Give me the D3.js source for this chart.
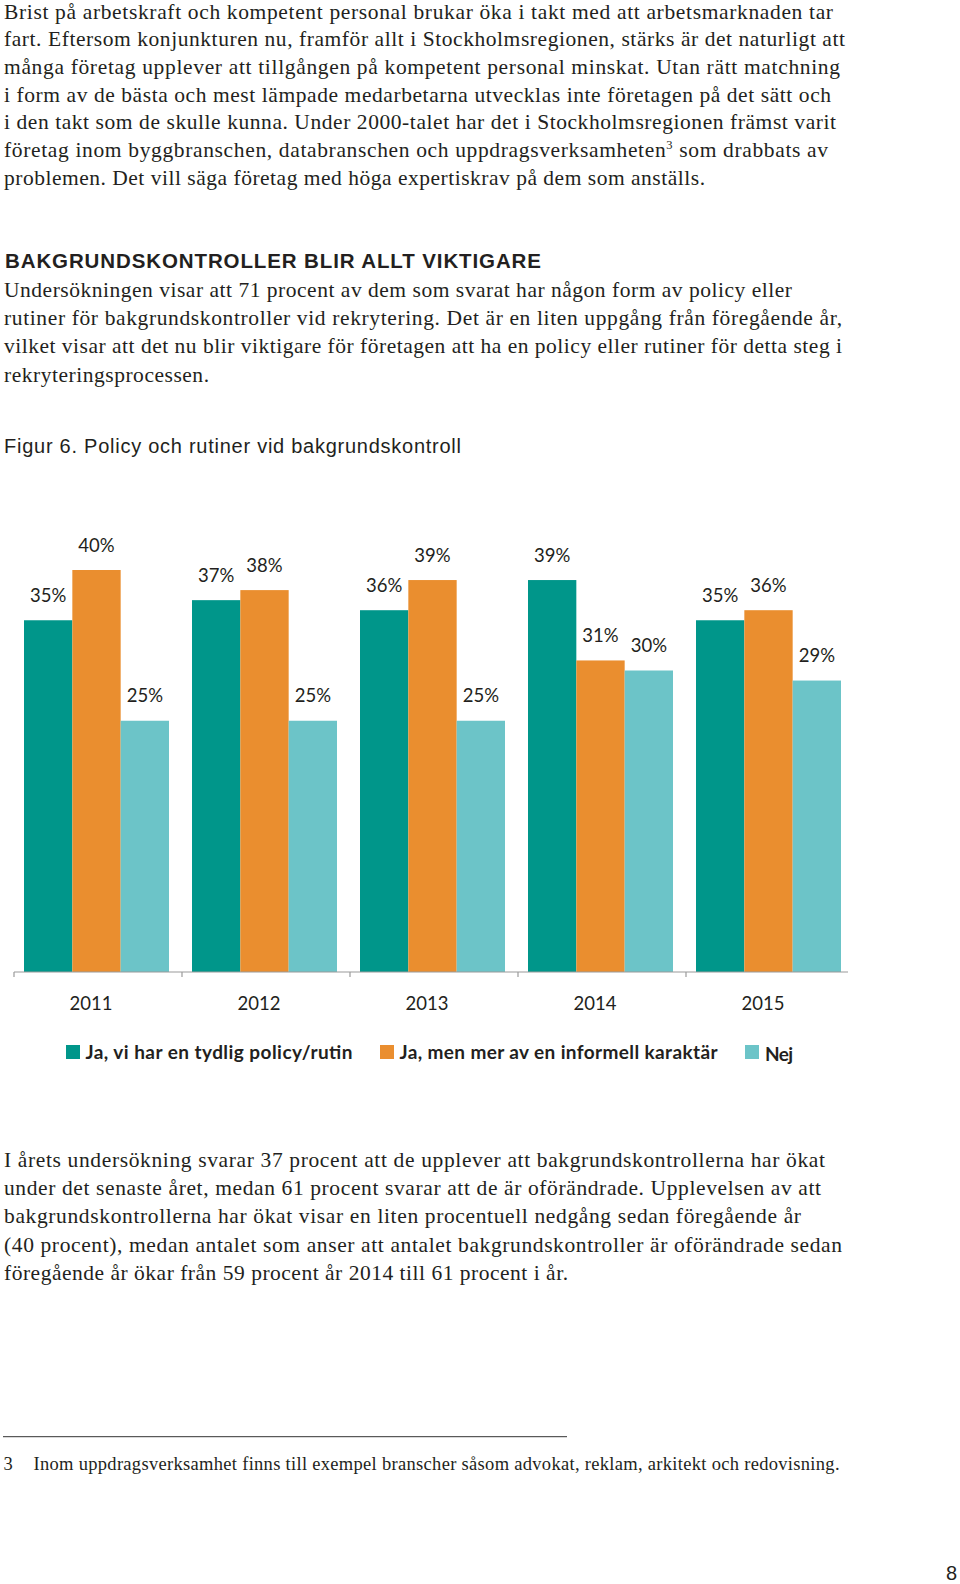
<!DOCTYPE html>
<html>
<head>
<meta charset="utf-8">
<script src="https://cdn.jsdelivr.net/npm/d3@7"></script>
<style>
  html, body { margin: 0; padding: 0; background: #fff; }
  svg { display: block; }
</style>
</head>
<body>
<div id="chart"></div>
<script>
// ---------- DATA ----------
const years = ["2011", "2012", "2013", "2014", "2015"];
const seriesNames = ["Ja, vi har en tydlig policy/rutin", "Ja, men mer av en informell karaktär", "Nej"];
const policyValues = [35, 37, 36, 39, 35];
const informalValues = [40, 38, 39, 31, 36];
const nejValues = [25, 25, 25, 30, 29];
const seriesColors = ["#00968a", "#ea8e2f", "#6cc4c8"];

const para1 = [
  ["Brist på arbetskraft och kompetent personal brukar öka i takt med att arbetsmarknaden tar", 833],
  ["fart. Eftersom konjunkturen nu, framför allt i Stockholmsregionen, stärks är det naturligt att", 845],
  ["många företag upplever att tillgången på kompetent personal minskat. Utan rätt matchning", 840],
  ["i form av de bästa och mest lämpade medarbetarna utvecklas inte företagen på det sätt och", 831],
  ["i den takt som de skulle kunna. Under 2000-talet har det i Stockholmsregionen främst varit", 836],
  ["företag inom byggbranschen, databranschen och uppdragsverksamheten|3| som drabbats av", 828],
  ["problemen. Det vill säga företag med höga expertiskrav på dem som anställs.", 705]
];
const heading = "BAKGRUNDSKONTROLLER BLIR ALLT VIKTIGARE";
const para2 = [
  ["Undersökningen visar att 71 procent av dem som svarat har någon form av policy eller", 792],
  ["rutiner för bakgrundskontroller vid rekrytering. Det är en liten uppgång från föregående år,", 842],
  ["vilket visar att det nu blir viktigare för företagen att ha en policy eller rutiner för detta steg i", 842],
  ["rekryteringsprocessen.", 209]
];
const figTitle = "Figur 6. Policy och rutiner vid bakgrundskontroll";
const para3 = [
  ["I årets undersökning svarar 37 procent att de upplever att bakgrundskontrollerna har ökat", 825],
  ["under det senaste året, medan 61 procent svarar att de är oförändrade. Upplevelsen av att", 821],
  ["bakgrundskontrollerna har ökat visar en liten procentuell nedgång sedan föregående år", 801],
  ["(40 procent), medan antalet som anser att antalet bakgrundskontroller är oförändrade sedan", 842],
  ["föregående år ökar från 59 procent år 2014 till 61 procent i år.", 568]
];
const legendWidths = [267, 318, 28];
const footnoteNum = "3";
const footnoteText = "Inom uppdragsverksamhet finns till exempel branscher såsom advokat, reklam, arkitekt och redovisning.";
const pageNumber = "8";

// ---------- SETUP ----------
const W = 960, H = 1584;
const svg = d3.select("#chart").append("svg").attr("width", W).attr("height", H);

const serif = "'Liberation Serif', 'DejaVu Serif', serif";
const sans = "'Liberation Sans', Arial, sans-serif";
const chartFont = "Lato, 'Open Sans', sans-serif";
const ink = "#231f20";

function paragraph(lines, startY, step) {
  const x0 = 4;
  lines.forEach(([txt, endX], i) => {
    const t = svg.append("text")
      .attr("x", x0)
      .attr("y", startY + i * step)
      .attr("font-family", serif)
      .attr("font-size", 21.5)
      .attr("fill", ink)
      .attr("textLength", endX - x0)
      .attr("lengthAdjust", "spacing");
    const parts = txt.split("|");
    if (parts.length === 1) {
      t.text(txt);
    } else {
      t.append("tspan").text(parts[0]);
      t.append("tspan").attr("font-size", 12.5).attr("dy", -8).text(parts[1]);
      t.append("tspan").attr("dy", 8).text(parts[2]);
    }
  });
}

paragraph(para1, 18.5, 27.7);

svg.append("text").attr("x", 5).attr("y", 268.3)
  .attr("font-family", sans).attr("font-weight", "bold").attr("font-size", 20.5)
  .attr("fill", ink).attr("textLength", 536).attr("lengthAdjust", "spacing")
  .text(heading);

paragraph(para2, 296.8, 28.3);

svg.append("text").attr("x", 4).attr("y", 453.3)
  .attr("font-family", sans).attr("font-size", 20)
  .attr("fill", ink).attr("textLength", 457).attr("lengthAdjust", "spacing")
  .text(figTitle);

// ---------- CHART ----------
const baseY = 972;
const y = d3.scaleLinear().domain([0, 40]).range([baseY, 570]);
const x0 = d3.scaleBand().domain(years).range([14, 854]);
const x1 = d3.scaleBand().domain(seriesNames).range([10, 155]);

const seriesValues = [policyValues, informalValues, nejValues];
const data = years.map((yr, i) => ({
  year: yr,
  vals: seriesNames.map((s, j) => ({ key: s, value: seriesValues[j][i], color: seriesColors[j] }))
}));

const groups = svg.append("g").selectAll("g").data(data).join("g")
  .attr("transform", d => `translate(${x0(d.year)},0)`);

groups.selectAll("rect").data(d => d.vals).join("rect")
  .attr("x", d => x1(d.key))
  .attr("width", x1.bandwidth())
  .attr("y", d => y(d.value))
  .attr("height", d => baseY - y(d.value))
  .attr("fill", d => d.color);

groups.selectAll("text.val").data(d => d.vals).join("text")
  .attr("class", "val")
  .attr("x", d => x1(d.key) + x1.bandwidth() / 2)
  .attr("y", d => y(d.value) - 18.5)
  .attr("text-anchor", "middle")
  .attr("font-family", chartFont)
  .attr("font-size", 18.5)
  .attr("fill", ink)
  .text(d => d.value + "%");

// axis
const axis = svg.append("g").attr("stroke", "#9a9a9a").attr("stroke-width", 1.2);
axis.append("line").attr("x1", 14).attr("x2", 848).attr("y1", baseY).attr("y2", baseY);
axis.selectAll("line.tick").data(years).join("line")
  .attr("class", "tick")
  .attr("x1", d => x0(d)).attr("x2", d => x0(d))
  .attr("y1", baseY).attr("y2", baseY + 5);

svg.append("g").selectAll("text").data(years).join("text")
  .attr("x", d => x0(d) + 77)
  .attr("y", 1010)
  .attr("text-anchor", "middle")
  .attr("font-family", chartFont)
  .attr("font-size", 18.5)
  .attr("fill", ink)
  .text(d => d);

// legend
const legendX = [66, 380, 745];
const leg = svg.append("g").selectAll("g").data(seriesNames).join("g")
  .attr("transform", (d, i) => `translate(${legendX[i]},0)`);
leg.append("rect").attr("x", 0).attr("y", 1045).attr("width", 14).attr("height", 14)
  .attr("fill", (d, i) => seriesColors[i]);
leg.append("text").attr("x", (d, i) => i === 2 ? 20 : 19.5).attr("y", (d, i) => i === 2 ? 1060.5 : 1059)
  .attr("font-family", chartFont).attr("font-weight", "bold").attr("font-size", 19)
  .attr("fill", ink)
  .attr("textLength", (d, i) => legendWidths[i]).attr("lengthAdjust", "spacing")
  .text(d => d);

paragraph(para3, 1166.7, 28.3);

// footnote
svg.append("line").attr("x1", 3).attr("x2", 567).attr("y1", 1436.7).attr("y2", 1436.7)
  .attr("stroke", "#333").attr("stroke-width", 1);
svg.append("text").attr("x", 3.5).attr("y", 1470)
  .attr("font-family", serif).attr("font-size", 18.5).attr("fill", ink).text(footnoteNum);
svg.append("text").attr("x", 33.5).attr("y", 1470)
  .attr("font-family", serif).attr("font-size", 18.5).attr("fill", ink)
  .attr("textLength", 806).attr("lengthAdjust", "spacing")
  .text(footnoteText);

svg.append("text").attr("x", 957).attr("y", 1580).attr("text-anchor", "end")
  .attr("font-family", sans).attr("font-size", 20).attr("fill", ink).text(pageNumber);
</script>
</body>
</html>
